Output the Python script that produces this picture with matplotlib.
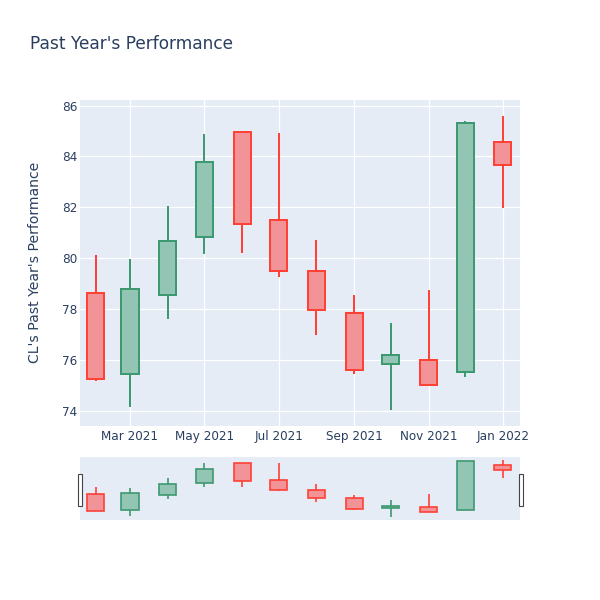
import numpy as np
import matplotlib.pyplot as plt
import matplotlib.dates as mdates
from matplotlib.patches import Rectangle

plt.rcParams['font.family'] = ['DejaVu Sans']

# monthly OHLC
months = ['2021-02-01', '2021-03-01', '2021-04-01', '2021-05-01', '2021-06-01', '2021-07-01',
          '2021-08-01', '2021-09-01', '2021-10-01', '2021-11-01', '2021-12-01', '2022-01-01']
opens = [78.64, 75.45, 78.54, 80.84, 84.95, 81.50, 79.49, 77.84, 75.85, 76.00, 75.51, 84.55]
highs = [80.12, 79.96, 82.04, 84.90, 84.99, 84.93, 80.70, 78.55, 77.45, 78.76, 85.38, 85.61]
lows = [75.18, 74.16, 77.59, 80.18, 80.21, 79.24, 76.99, 75.45, 74.03, 75.03, 75.34, 81.99]
closes = [75.24, 78.80, 80.68, 83.78, 81.35, 79.50, 77.97, 75.60, 76.18, 75.03, 85.32, 83.67]

tick_dates = ['2021-03-01', '2021-05-01', '2021-07-01', '2021-09-01', '2021-11-01', '2022-01-01']
tick_labels = ['Mar 2021', 'May 2021', 'Jul 2021', 'Sep 2021', 'Nov 2021', 'Jan 2022']
y_ticks = [74, 76, 78, 80, 82, 84, 86]

INC_LINE, INC_FILL = '#3D9970', '#92c5b3'
DEC_LINE, DEC_FILL = '#FF4136', '#f29497'
BG = '#E5ECF6'
TXT = '#2a3f5f'

x = mdates.date2num(np.array(months, dtype='datetime64[D]'))
xlim = mdates.date2num(np.array(['2021-01-19', '2022-01-15'], dtype='datetime64[D]'))
ylim = (73.4, 86.22)


def draw_candles(ax, lw):
    for xi, o, h, l, c in zip(x, opens, highs, lows, closes):
        up = c >= o
        lc = INC_LINE if up else DEC_LINE
        fc = INC_FILL if up else DEC_FILL
        lo_b, hi_b = min(o, c), max(o, c)
        ax.vlines(xi, l, lo_b, color=lc, lw=lw, zorder=3)
        ax.vlines(xi, hi_b, h, color=lc, lw=lw, zorder=3)
        ax.bar(xi, hi_b - lo_b, width=14, bottom=lo_b, facecolor=fc,
               edgecolor=lc, linewidth=lw, zorder=4)


fig = plt.figure(figsize=(6, 6), dpi=100)

ax = fig.add_axes([80 / 600, 174 / 600, 440 / 600, 326 / 600])
ax.set_facecolor(BG)
draw_candles(ax, 1.44)
ax.set_xlim(*xlim)
ax.set_ylim(*ylim)
ax.set_yticks(y_ticks)
ax.set_xticks(mdates.date2num(np.array(tick_dates, dtype='datetime64[D]')))
ax.set_xticklabels(tick_labels)
ax.tick_params(length=0, labelsize=8.64, labelcolor=TXT)
ax.tick_params(axis='y', pad=2)
ax.tick_params(axis='x', pad=3)
ax.grid(color='white', lw=0.9, zorder=0)
ax.set_axisbelow(True)
for s in ax.spines.values():
    s.set_visible(False)

# range slider
sl = fig.add_axes([80 / 600, 80 / 600, 440 / 600, 63 / 600])
sl.set_facecolor(BG)
draw_candles(sl, 1.2)
sl.set_xlim(*xlim)
sl.set_ylim(*ylim)
sl.set_xticks([])
sl.set_yticks([])
for s in sl.spines.values():
    s.set_visible(False)

for hx in (77.5, 518.5):
    fig.add_artist(Rectangle((hx / 600, 94 / 600), 4 / 600, 32 / 600, transform=fig.transFigure,
                             facecolor='white', edgecolor='#444444', lw=0.8))

fig.text(30 / 600, 1 - 44 / 600, "Past Year's Performance", fontsize=12.24, color=TXT, va='center')
fig.text(35 / 600, 1 - 262 / 600, "CL's Past Year's Performance", fontsize=10.08, color=TXT,
         rotation=90, ha='center', va='center')

fig.savefig('out.png', dpi=100, facecolor='white')
